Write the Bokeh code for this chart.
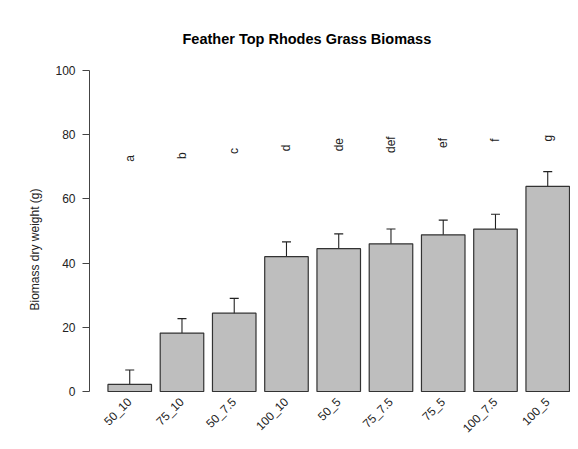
import numpy as np
from bokeh.plotting import figure
from bokeh.models import (ColumnDataSource, Range1d, LinearAxis, FixedTicker,
                          Whisker, TeeHead)
from bokeh.core.properties import value
from bokeh.embed import file_html
from bokeh.resources import INLINE

# ---- data ----
treatments = ["50_10", "75_10", "50_7.5", "100_10", "50_5",
              "75_7.5", "75_5", "100_7.5", "100_5"]
biomass_mean = [2.2, 18.2, 24.4, 42.0, 44.5, 46.0, 48.8, 50.6, 63.9]
biomass_se = [4.5, 4.5, 4.6, 4.6, 4.6, 4.6, 4.6, 4.6, 4.6]
group_letters = ["a", "b", "c", "d", "de", "def", "ef", "f", "g"]
letter_height = [72.6, 73.5, 74.9, 75.9, 76.9, 76.9, 77.4, 78.3, 78.9]
y_ticks = [0, 20, 40, 60, 80, 100]

FONT = "Liberation Sans"

# bar positions as in an R barplot (width 1, space 0.2)
n = len(treatments)
xs = 0.7 + 1.2 * np.arange(n)
means = np.array(biomass_mean)
se = np.array(biomass_se)
upper = means + se
lower = np.maximum(0, means - se)

src = ColumnDataSource(dict(x=xs, top=means, upper=upper, lower=lower,
                            lab=treatments, let=group_letters,
                            lety=letter_height))

p = figure(width=570, height=441, output_backend="svg", toolbar_location=None,
           x_range=Range1d(-0.224, 10.823), y_range=Range1d(-15.58, 104.05),
           x_axis_location=None, y_axis_location=None,
           min_border_left=89, min_border_right=0, min_border_top=57,
           min_border_bottom=0)
p.grid.visible = False
p.outline_line_color = None
p.background_fill_color = "white"
p.border_fill_color = "white"

p.title.text = "Feather Top Rhodes Grass Biomass"
p.title.text_font = FONT
p.title.text_font_size = "14.5px"
p.title.text_font_style = "bold"
p.title.text_color = "black"
p.title.align = "left"
p.title.offset = 93
p.title.standoff = 22

yaxis = LinearAxis(ticker=FixedTicker(ticks=y_ticks), bounds=(0, 100),
                   axis_label="Biomass dry weight (g)")
yaxis.major_tick_out = 7
yaxis.major_tick_in = 0
yaxis.minor_tick_line_color = None
yaxis.axis_line_color = "#444444"
yaxis.major_tick_line_color = "#444444"
yaxis.major_label_text_font = FONT
yaxis.major_label_text_font_size = "12px"
yaxis.major_label_text_color = "#222222"
yaxis.major_label_standoff = 7
yaxis.axis_label_text_font = FONT
yaxis.axis_label_text_font_size = "12px"
yaxis.axis_label_text_font_style = "normal"
yaxis.axis_label_text_color = "#222222"
yaxis.axis_label_standoff = 10
p.add_layout(yaxis, "left")

p.vbar(x="x", top="top", bottom=0, width=1.0, source=src,
       fill_color="#bebebe", line_color="#333333", line_width=1.2)

p.add_layout(Whisker(source=src, base="x", upper="upper", lower="lower",
                     line_color="#222222", line_width=1.1,
                     upper_head=TeeHead(size=9, line_color="#222222", line_width=1.1),
                     lower_head=TeeHead(size=9, line_color="#222222", line_width=1.1)))

p.text(x="x", y=-2.6, text="lab", source=src, angle=np.pi / 4,
       text_align="right", text_baseline="middle",
       text_font=value(FONT), text_font_size="12px", text_color="#222222")

p.text(x="x", y="lety", text="let", source=src, angle=np.pi / 2,
       text_align="center", text_baseline="middle",
       text_font=value(FONT), text_font_size="12px", text_color="#222222")

open("out.html", "w").write(file_html(p, INLINE))
